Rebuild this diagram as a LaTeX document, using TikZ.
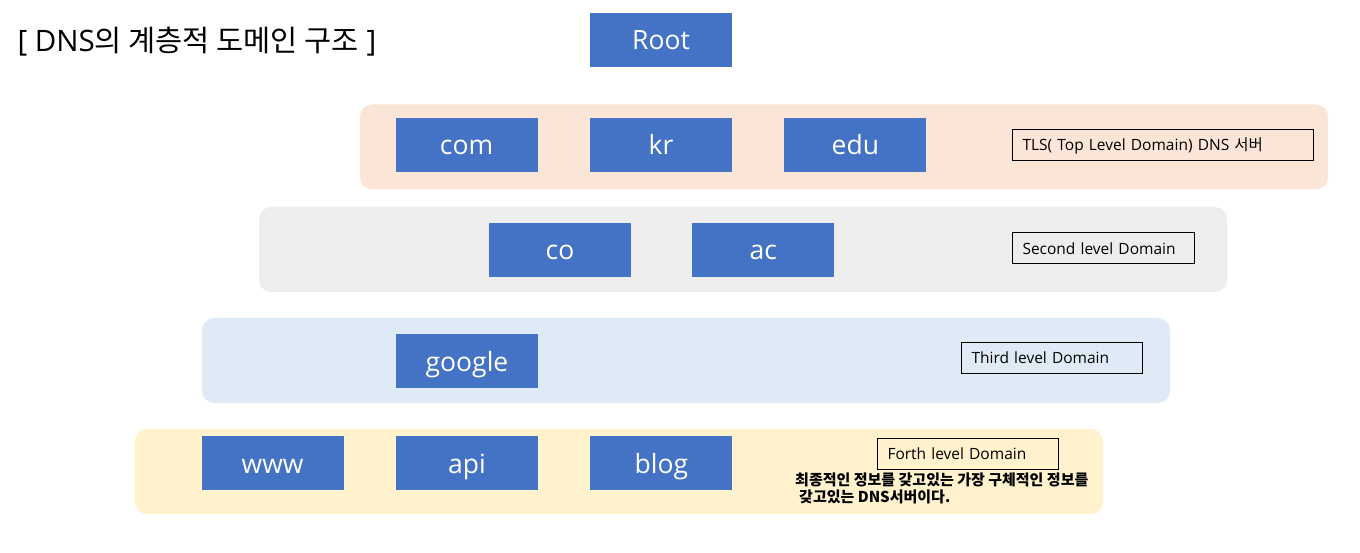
\documentclass[tikz,border=0pt]{standalone}
\usepackage{fontspec}
\setmainfont{Open Sans}
\newfontfamily\krfont{Noto Sans CJK KR}
\usetikzlibrary{positioning}
\definecolor{boxblue}{HTML}{4472C4}
\definecolor{peach}{HTML}{FBE5D6}
\definecolor{greyband}{HTML}{EDEDED}
\definecolor{blueband}{HTML}{DEEBF7}
\definecolor{yellowband}{HTML}{FFF2CC}

\begin{document}
\begin{tikzpicture}[
    x=1pt, y=-1pt,
    node distance=52pt,
    dnsbox/.style={
        rectangle,
        fill=boxblue,
        text=white,
        minimum width=142pt,
        minimum height=54pt,
        inner sep=0pt,
        text height=22pt,
        text depth=2pt,
        font=\fontsize{26.5}{30}\selectfont
    },
    band/.style={
        rectangle,
        rounded corners=12pt,
        minimum width=968pt,
        minimum height=85pt,
        inner sep=0pt
    },
    levelbox/.style={
        rectangle,
        draw,
        line width=1pt,
        minimum height=31pt,
        inner xsep=10pt,
        inner ysep=0pt,
        text width=#1,
        align=left,
        anchor=west,
        font=\fontsize{15.5}{17}\selectfont
    }
]
    \useasboundingbox (0,0) rectangle (1360,553);

    % 제목
    \node (title) [anchor=west, font=\fontsize{29.5}{34}\selectfont] at (14,42) {[ DNS{\krfont 의 계층적 도메인 구조} ]};

    % 각 레벨의 배경 띠
    \node (tldband) [band, fill=peach] at (844,147) {};
    \node (sldband) [band, fill=greyband] at (743,249.5) {};
    \node (thirdband) [band, fill=blueband] at (686,360.5) {};
    \node (forthband) [band, fill=yellowband] at (619,471.5) {};

    % 루트와 TLD
    \node (kr) [dnsbox] at (661,145) {kr};
    \node (com) [dnsbox, left=of kr] {com};
    \node (edu) [dnsbox, right=of kr] {edu};
    \node (root) [dnsbox] at (661,40) {Root};

    % Second level
    \node (co) [dnsbox] at (560,250) {co};
    \node (ac) [dnsbox, right=61pt of co] {ac};

    % Third level
    \node (google) [dnsbox] at (467,361) {google};

    % Forth level
    \node (api) [dnsbox] at (467,463) {api};
    \node (www) [dnsbox, left=of api] {www};
    \node (blog) [dnsbox, right=of api] {blog};

    % 레벨 설명 상자
    \node (tlslabel) [levelbox=281pt] at (1012,145.5) {TLS( Top Level Domain) DNS {\krfont 서버}};
    \node (sldlabel) [levelbox=162pt] at (1012,248.5) {Second level Domain};
    \node (thirdlabel) [levelbox=161pt] at (961,357.5) {Third level Domain};
    \node (forthlabel) [levelbox=161pt] at (877,454) {Forth level Domain};
    \node (forthnote) [anchor=north west, align=left, inner sep=0pt,
        font=\krfont\fontsize{15}{16.5}\selectfont\bfseries] at (795,473)
        {최종적인 정보를 갖고있는 가장 구체적인 정보를\\\hspace{4pt}갖고있는 DNS서버이다.};

\end{tikzpicture}
\end{document}
